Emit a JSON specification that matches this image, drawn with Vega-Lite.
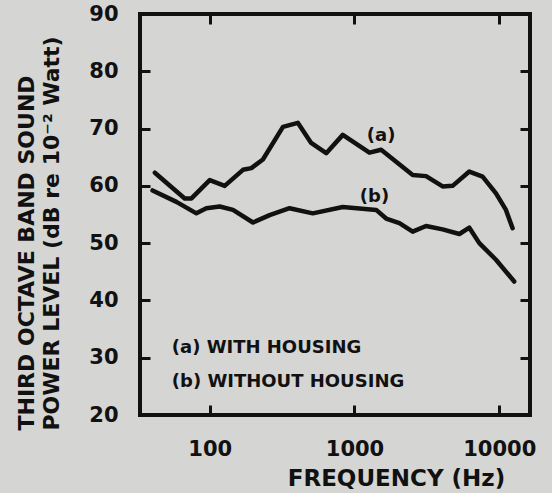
{
  "$schema": "https://vega.github.io/schema/vega-lite/v6.json",
  "width": 390,
  "height": 401,
  "autosize": {"type": "none"},
  "padding": {"left": 140, "top": 14, "right": 22, "bottom": 78},
  "background": "#d5d5d3",
  "config": {
    "view": {"stroke": "#111111", "strokeWidth": 4},
    "font": "DejaVu Sans"
  },
  "datasets": {
    "curves": [
      {"series": "a", "freq": 41.8, "db": 62.3},
      {"series": "a", "freq": 67.2, "db": 57.8},
      {"series": "a", "freq": 74.8, "db": 57.8},
      {"series": "a", "freq": 100, "db": 61.0},
      {"series": "a", "freq": 126.9, "db": 60.0},
      {"series": "a", "freq": 169.7, "db": 62.8},
      {"series": "a", "freq": 193.9, "db": 63.1},
      {"series": "a", "freq": 233, "db": 64.6},
      {"series": "a", "freq": 320.6, "db": 70.3},
      {"series": "a", "freq": 406, "db": 71.0},
      {"series": "a", "freq": 502, "db": 67.5},
      {"series": "a", "freq": 638, "db": 65.7},
      {"series": "a", "freq": 830, "db": 68.9},
      {"series": "a", "freq": 1268, "db": 65.8},
      {"series": "a", "freq": 1528, "db": 66.3},
      {"series": "a", "freq": 2523, "db": 61.9},
      {"series": "a", "freq": 3120, "db": 61.7},
      {"series": "a", "freq": 4060, "db": 59.9},
      {"series": "a", "freq": 4760, "db": 60.0},
      {"series": "a", "freq": 6210, "db": 62.5},
      {"series": "a", "freq": 7670, "db": 61.6},
      {"series": "a", "freq": 9490, "db": 58.7},
      {"series": "a", "freq": 11120, "db": 55.8},
      {"series": "a", "freq": 12360, "db": 52.6},
      {"series": "b", "freq": 40.3, "db": 59.2},
      {"series": "b", "freq": 58.9, "db": 57.2},
      {"series": "b", "freq": 80.9, "db": 55.2},
      {"series": "b", "freq": 94.9, "db": 56.1},
      {"series": "b", "freq": 117.2, "db": 56.4},
      {"series": "b", "freq": 144.8, "db": 55.8},
      {"series": "b", "freq": 199, "db": 53.6},
      {"series": "b", "freq": 259.4, "db": 54.9},
      {"series": "b", "freq": 356, "db": 56.1},
      {"series": "b", "freq": 515, "db": 55.2},
      {"series": "b", "freq": 830, "db": 56.3},
      {"series": "b", "freq": 1412, "db": 55.8},
      {"series": "b", "freq": 1655, "db": 54.3},
      {"series": "b", "freq": 2043, "db": 53.5},
      {"series": "b", "freq": 2523, "db": 52.0},
      {"series": "b", "freq": 3120, "db": 53.0},
      {"series": "b", "freq": 4060, "db": 52.4},
      {"series": "b", "freq": 5300, "db": 51.6},
      {"series": "b", "freq": 6210, "db": 52.7},
      {"series": "b", "freq": 7280, "db": 50.0},
      {"series": "b", "freq": 9490, "db": 47.1},
      {"series": "b", "freq": 12680, "db": 43.3}
    ],
    "curveLabels": [
      {"label": "(a)", "freq": 1528, "db": 68.7},
      {"label": "(b)", "freq": 1374, "db": 58.1}
    ],
    "legend": [
      {"label": "(a) WITH HOUSING", "freq": 54.7, "db": 30.8},
      {"label": "(b) WITHOUT HOUSING", "freq": 54.7, "db": 24.9}
    ]
  },
  "resolve": {"axis": {"x": "independent", "y": "independent"}},
  "layer": [
    {
      "layer": [
        {
          "data": {"name": "curves"},
          "mark": {"type": "line", "color": "#111111", "strokeWidth": 4.5, "strokeJoin": "round", "strokeCap": "round"},
          "encoding": {
            "x": {
              "field": "freq", "type": "quantitative",
              "scale": {"type": "log", "domain": [33, 16300], "nice": false},
              "axis": {
                "orient": "bottom",
                "offset": -10,
                "values": [100, 1000, 10000],
                "format": "d",
                "grid": false,
                "domain": false,
                "ticks": true,
                "tickColor": "#111111",
                "tickSize": 10,
                "tickWidth": 3,
                "labelFlush": false,
                "labelPadding": 23,
                "labelBaseline": "top",
                "labelColor": "#111111",
                "labelFont": "DejaVu Sans",
                "labelFontWeight": "bold",
                "labelFontSize": 21,
                "title": "FREQUENCY (Hz)",
                "titleColor": "#111111",
                "titleFont": "DejaVu Sans",
                "titleFontWeight": "bold",
                "titleFontSize": 23,
                "titleX": 256,
                "titleY": 80,
                "titleBaseline": "alphabetic",
                "titleAnchor": "start",
                "titleAlign": "center"
              }
            },
            "y": {
              "field": "db", "type": "quantitative",
              "scale": {"domain": [20, 90], "nice": false, "zero": false},
              "axis": {
                "orient": "left",
                "offset": -10,
                "values": [20, 30, 40, 50, 60, 70, 80, 90],
                "grid": false,
                "domain": false,
                "ticks": true,
                "tickColor": "#111111",
                "tickSize": 10,
                "tickWidth": 3,
                "labelFlush": false,
                "labelPadding": 22,
                "labelColor": "#111111",
                "labelFont": "DejaVu Sans",
                "labelFontWeight": "bold",
                "labelFontSize": 21,
                "title": ["THIRD OCTAVE BAND SOUND", "POWER LEVEL (dB re 10⁻² Watt)"],
                "titleColor": "#111111",
                "titleFont": "DejaVu Sans",
                "titleFontWeight": "bold",
                "titleFontSize": 22,
                "titleLineHeight": 25,
                "titleAngle": 270,
                "titleAlign": "left",
                "titleBaseline": "alphabetic",
                "titleX": -117,
                "titleY": 416
              }
            },
            "detail": {"field": "series", "type": "nominal"}
          }
        },
        {
          "data": {"name": "curveLabels"},
          "mark": {"type": "text", "font": "DejaVu Sans", "fontWeight": "bold", "fontSize": 18, "color": "#111111", "align": "center", "baseline": "middle"},
          "encoding": {
            "x": {"field": "freq", "type": "quantitative"},
            "y": {"field": "db", "type": "quantitative"},
            "text": {"field": "label"}
          }
        },
        {
          "data": {"name": "legend"},
          "mark": {"type": "text", "font": "DejaVu Sans", "fontWeight": "bold", "fontSize": 18, "color": "#111111", "align": "left", "baseline": "alphabetic"},
          "encoding": {
            "x": {"field": "freq", "type": "quantitative"},
            "y": {"field": "db", "type": "quantitative"},
            "text": {"field": "label"}
          }
        }
      ]
    },
    {
      "data": {"name": "curves"},
      "mark": {"type": "point", "opacity": 0},
      "encoding": {
        "x": {"field": "freq", "type": "quantitative",
          "axis": {"orient": "top", "offset": -10, "values": [100, 1000, 10000], "labels": false, "title": null, "grid": false, "domain": false, "tickColor": "#111111", "tickSize": 10, "tickWidth": 3}},
        "y": {"field": "db", "type": "quantitative",
          "axis": {"orient": "right", "offset": -10, "values": [30, 40, 50, 60, 70, 80], "labels": false, "title": null, "grid": false, "domain": false, "tickColor": "#111111", "tickSize": 10, "tickWidth": 3}}
      }
    }
  ]
}
